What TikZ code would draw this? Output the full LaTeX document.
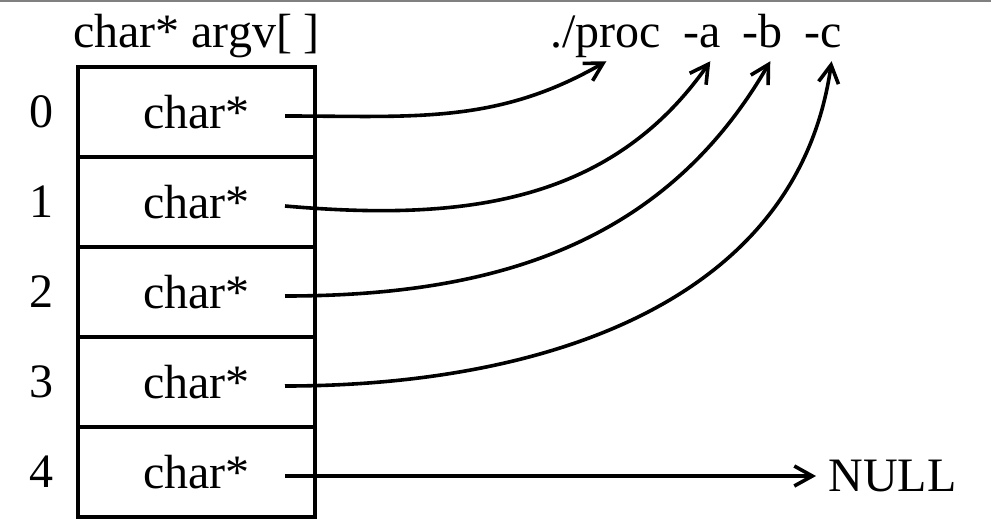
\documentclass[tikz,border=0pt]{standalone}
\usepackage{fontspec}
\setmainfont{Liberation Serif}
\usetikzlibrary{positioning, arrows.meta}

\begin{document}
\begin{tikzpicture}[node distance=0pt, font=\fontsize{24}{28}\selectfont]
    \tikzset{cell/.style={draw, line width=2pt, minimum width=118.5pt, minimum height=45pt, inner sep=0pt, outer sep=0pt}}
    \tikzset{word/.style={inner sep=0pt}}
    \tikzset{arg/.style={inner sep=0pt, text depth=5pt, outer sep=2pt}}
    \tikzset{ptr/.style={line width=1.8pt, -{Straight Barb[length=9pt, width=10pt]}}}
    \useasboundingbox (0,0) rectangle (495.5pt,-262.5pt);
    \draw[gray, line width=1pt] (0,-0.5pt) -- (495.5pt,-0.5pt);

    % the array
    \node[cell]                 (c0) at (98.25pt,-56pt) {char*};
    \node[cell, below=of c0]    (c1) {char*};
    \node[cell, below=of c1]    (c2) {char*};
    \node[cell, below=of c2]    (c3) {char*};
    \node[cell, below=of c3]    (c4) {char*};

    \node[word, left=12pt of c0] (i0) {0};
    \node[word, left=12pt of c1] (i1) {1};
    \node[word, left=12pt of c2] (i2) {2};
    \node[word, left=12pt of c3] (i3) {3};
    \node[word, left=12pt of c4] (i4) {4};

    \node[word, above=4.5pt of c0] (argv) {char* argv[ ]};

    % the command line
    \node[arg, base right=113pt of argv] (prog) {./proc};
    \node[arg, base right=7pt of prog]   (opta) {-a};
    \node[arg, base right=7pt of opta]   (optb) {-b};
    \node[arg, base right=7pt of optb]   (optc) {-c};

    \node[word, right=256.5pt of c4, yshift=-2pt] (null) {NULL};

    \draw[ptr] ([xshift=-15pt, yshift=-2pt]c0.east) to[out=0, in=210] ([xshift=30pt]prog.south west);
    \draw[ptr] ([xshift=-15pt, yshift=-2pt]c1.east) to[out=-5, in=235] ([xshift=-7pt]opta.south east);
    \draw[ptr] ([xshift=-15pt, yshift=-2pt]c2.east) to[out=0, in=240] ([xshift=-8pt]optb.south east);
    \draw[ptr] ([xshift=-15pt, yshift=-2pt]c3.east) to[out=0, in=262] ([xshift=-7pt]optc.south east);
    \draw[ptr] ([xshift=-15pt, yshift=-2pt]c4.east) -- ([xshift=-6pt]null.west);
\end{tikzpicture}
\end{document}
